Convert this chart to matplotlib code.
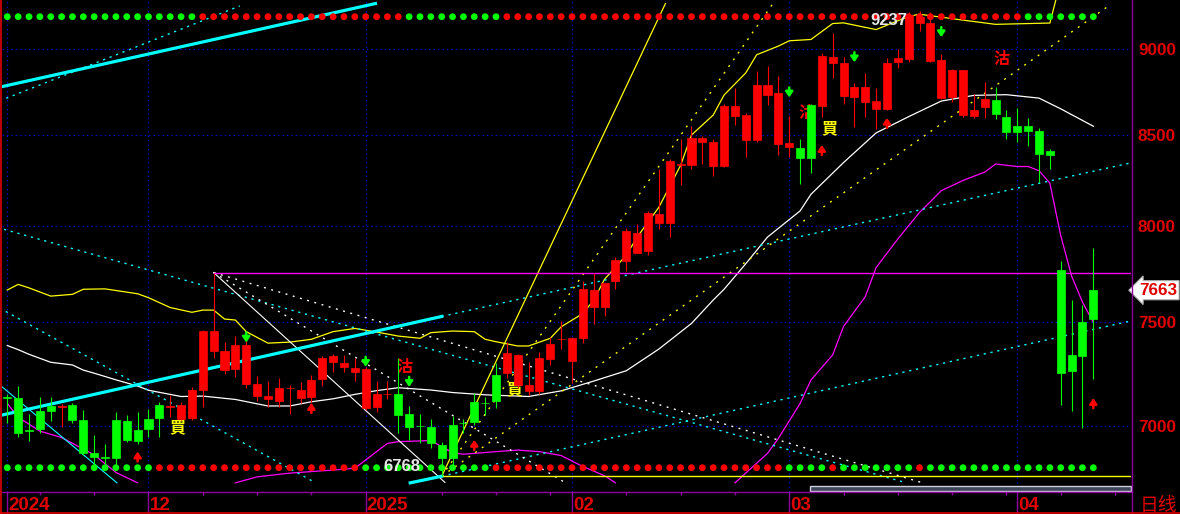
import numpy as np
import matplotlib.pyplot as plt
from matplotlib.lines import Line2D
from matplotlib.patches import Rectangle
from matplotlib.ticker import FixedLocator, NullLocator

plt.rcParams['font.family'] = ['Liberation Sans', 'Noto Sans CJK TC', 'DejaVu Sans']
plt.rcParams['lines.scale_dashes'] = False

# ---------------- data (daily bars, mid Nov 2024 -> Apr 2025) ----------------
opens = [7134, 7129, 6980, 7069, 7094, 7090, 7097, 7027, 6874, 6856,
         7027, 7024, 6980, 7032, 7097, 7090, 7032, 7037, 7169, 7360,
         7265, 7268, 7198, 7140, 7124, 7116, 7177, 7132, 7134, 7222,
         7304, 7281, 7255, 7085, 7089, 7148, 7150, 7055, 7000, 6995,
         6910, 7003, 7013, 7110, 7109, 7241, 7249, 7193, 7166, 7164,
         7319, 7417, 7310, 7421, 7580, 7580, 7711, 7815, 7857, 7867,
         8016, 8016, 8334, 8331, 8461, 8327, 8327, 8610, 8471, 8471,
         8730, 8449, 8432, 8424, 8672, 8666, 8916, 8726, 8721, 8691,
         8647, 8649, 8926, 8942, 9161, 8930, 8714, 8716, 8614, 8610,
         8662, 8701, 8601, 8550, 8550, 8522, 8409, 7767, 7339, 7503,
         7664]
highs = [7150, 7188, 7054, 7134, 7134, 7102, 7105, 7074, 6957, 6915,
         7065, 7050, 7063, 7078, 7113, 7145, 7113, 7185, 7462, 7754,
         7404, 7432, 7437, 7236, 7212, 7227, 7193, 7209, 7241, 7335,
         7345, 7338, 7322, 7281, 7212, 7212, 7322, 7093, 7055, 7033,
         6926, 7045, 7033, 7156, 7137, 7298, 7404, 7342, 7302, 7352,
         7426, 7507, 7428, 7710, 7754, 7700, 7833, 7988, 8010, 8079,
         8307, 8365, 8476, 8550, 8494, 8475, 8676, 8769, 8624, 8871,
         8902, 8842, 8608, 8475, 8678, 8976, 9100, 8952, 8798, 8858,
         8769, 8946, 9000, 9226, 9237, 9228, 8972, 8883, 8877, 8734,
         8805, 8775, 8643, 8653, 8595, 8538, 8420, 7814, 7613, 7588,
         7880]
lows = [7013, 6948, 6931, 6967, 7024, 6995, 7014, 6864, 6819, 6796,
        6805, 6926, 6915, 6946, 6946, 7039, 7027, 7027, 7089, 7322,
        7246, 7233, 7179, 7116, 7088, 7086, 7055, 7108, 7108, 7189,
        7257, 7257, 7214, 7074, 7066, 7124, 6965, 6934, 6921, 6895,
        6768, 6811, 6965, 7003, 7050, 7082, 7225, 7179, 7145, 7150,
        7289, 7368, 7204, 7397, 7490, 7534, 7668, 7763, 7854, 7845,
        7981, 7942, 8221, 8309, 8336, 8271, 8322, 8556, 8378, 8461,
        8672, 8387, 8378, 8226, 8288, 8604, 8828, 8678, 8547, 8604,
        8534, 8643, 8890, 8926, 9113, 8922, 8707, 8691, 8601, 8598,
        8598, 8591, 8477, 8461, 8437, 8239, 8309, 7097, 7071, 6991,
        7221]
closes = [7130, 6967, 6975, 6983, 7070, 7093, 7027, 6872, 6856, 6852,
          6852, 6934, 6931, 6985, 7037, 7093, 7097, 7169, 7459, 7459,
          7360, 7388, 7388, 7198, 7140, 7180, 7180, 7169, 7217, 7325,
          7334, 7301, 7276, 7270, 7150, 7151, 7050, 6995, 6998, 6921,
          6849, 6849, 7011, 7016, 7107, 7118, 7347, 7339, 7193, 7322,
          7393, 7419, 7421, 7668, 7664, 7698, 7819, 7972, 7959, 8067,
          8063, 8353, 8337, 8484, 8484, 8460, 8666, 8666, 8614, 8789,
          8789, 8740, 8452, 8372, 8372, 8960, 8952, 8916, 8775, 8775,
          8695, 8916, 8946, 9208, 9197, 9161, 8936, 8877, 8877, 8643,
          8705, 8620, 8518, 8518, 8522, 8393, 8387, 7252, 7260, 7334,
          7517]
# trend state of each bar (candle colour), as runs
candle_runs = [('g', 5), ('r', 1), ('g', 9), ('r', 21), ('g', 10),
               ('r', 27), ('g', 2), ('r', 16), ('g', 10)]
top_dot_runs = [('g', 18), ('r', 19), ('g', 9), ('r', 48), ('g', 7)]
bottom_dot_runs = [('g', 14), ('r', 19), ('g', 12), ('r', 27), ('g', 4),
                   ('r', 1), ('g', 7), ('r', 1), ('g', 16)]

# bollinger-type bands (bar index, price)
mid_idx = [0, 1, 2, 4, 6, 7, 8, 10, 12, 13, 15, 16, 18, 21, 24, 26, 28, 30, 32,
           34, 36, 39, 41, 44, 48, 51, 54, 57, 60, 63, 65, 66, 68, 70, 73, 74,
           77, 80, 83, 86, 89, 92, 95, 97, 100]
mid_val = [7385, 7365, 7342, 7303, 7290, 7265, 7250, 7218, 7188, 7168, 7148,
           7138, 7140, 7124, 7093, 7093, 7113, 7127, 7148, 7166, 7180, 7169,
           7157, 7146, 7138, 7165, 7212, 7262, 7368, 7495, 7613, 7668, 7800,
           7940, 8080, 8170, 8345, 8512, 8605, 8695, 8728, 8732, 8712, 8650,
           8550]
up_idx = [0, 1, 2, 4, 6, 7, 9, 12, 13, 15, 17, 18, 19, 20, 21, 22, 24, 26, 28,
          30, 32, 34, 36, 38, 39, 41, 43, 44, 45, 47, 48, 50, 51, 53, 54, 55,
          57, 58, 60, 62, 63, 65, 66, 68, 69, 71, 72, 74, 76, 77, 80, 83, 84,
          88, 91, 96, 97]
up_val = [7664, 7693, 7675, 7633, 7642, 7668, 7670, 7645, 7625, 7575, 7551,
          7562, 7562, 7517, 7512, 7454, 7397, 7402, 7416, 7454, 7470, 7452,
          7432, 7421, 7449, 7457, 7454, 7416, 7404, 7383, 7383, 7421, 7478,
          7545, 7613, 7720, 7845, 7940, 8100, 8330, 8500, 8614, 8730, 8860,
          8968, 9020, 9052, 9060, 9157, 9161, 9120, 9201, 9214, 9178, 9152,
          9160, 9420]
low_idx = [0, 1, 3, 5, 8, 10, 12, 13, 20, 21, 23, 26, 30, 32, 33, 35, 36, 39,
           41, 42, 45, 47, 49, 51, 53, 55, 56, 57, 66, 67, 70, 71, 73, 74, 76,
           77, 79, 80, 82, 84, 85, 86, 88, 90, 91, 93, 94, 95, 96, 97, 98, 99,
           100]
low_val = [7105, 7040, 6975, 6945, 6865, 6785, 6738, np.nan, np.nan, 6738,
           6765, 6782, 6796, 6804, 6842, 6918, 6926, 6931, 6875, 6868, 6880,
           6887, 6880, 6862, 6812, 6770, 6738, np.nan, np.nan, 6738, 6872,
           6941, 7105, 7217, 7339, 7480, 7630, 7780, 7930, 8072, 8130, 8190,
           8246, 8292, 8337, 8323, 8323, 8300, 8231, 7948, 7736, 7603, 7500]

# drawn studies: (start bar, start price, end bar, end price)
cyan_channel = [(-0.5, 8779, 33.9, 9280), (-0.5, 7050, 40.0, 7530),
                (37.1, 6738, 40.0, 6768)]
cyan_channel_ext = [(40.0, 7530, 103.5, 8344), (40.0, 6768, 103.5, 7508)]
cyan_dotted = [(-0.1, 8711, 21.4, 9265), (-0.3, 7981, 82.8, 6738),
               (-0.7, 7572, 28.2, 6743)]
cyan_thin = [(-0.5, 7185, 10.1, 6738)]
white_solid = [(19, 7754, 40.3, 6740)]
white_dotted = [(19, 7754, 84.3, 6738), (19, 7754, 51.4, 6738)]
yellow_solid = [(40, 6768, 60.6, 9280)]
yellow_dotted = [(40, 6768, 70.5, 9280), (40, 6768, 101.4, 9265)]
resist_bar, resist_level = 19, 7754
support_bar, support_level = 40, 6768

# signals
up_arrow_idx = [12, 28, 43, 75, 81, 100]
up_arrow_price = [6880, 7107, 6934, 8443, 8598, 7130]
down_arrow_idx = [22, 33, 37, 72, 78, 86]
down_arrow_price = [7400, 7281, 7184, 8716, 8923, 9074]
buy_idx = [15, 46, 75]
buy_price = [6992, 7173, 8539]
sell_idx = [36, 73, 91]
sell_price = [7281, 8627, 8942]

high_mark = (84, 9237)
low_mark = (40, 6768)
last_price = 7663

price_ticks = [7000, 7500, 8000, 8500, 9000]
month_idx = [0, 13, 33, 52, 72, 93]
month_labels = ['2024', '12', '2025', '02', '03', '04']
week_idx = [3, 8, 18, 23, 28, 40, 45, 50, 57, 62, 67, 77, 82, 87, 92, 97, 102]


def expand(runs):
    out = []
    for c, n in runs:
        out += [c] * n
    return out


RED = '#ff0000'
GREEN = '#00ff00'
cmap = {'r': RED, 'g': GREEN}
W, H = 1180, 514

fig = plt.figure(figsize=(W / 100, H / 100), dpi=100, facecolor='black')
ax = fig.add_axes([2 / W, (H - 492) / H, 1129 / W, 492 / H])
ax.set_facecolor('black')
ax.set_yscale('log')
ax.set_ylim(6697, 9302)
ax.set_xlim(-0.488, 103.47)
for s in ax.spines.values():
    s.set_visible(False)

# grid
ax.hlines(price_ticks, -0.488, 103.47, colors='#0000d0', lw=0.9,
          linestyles=(0, (1, 2.2)), zorder=0)
ax.vlines(month_idx, 6697, 9302, colors='#0000d0', lw=0.9,
          linestyles=(0, (1, 2.2)), zorder=0)

# bands
ax.plot(mid_idx, mid_val, color='white', lw=0.9, zorder=2)
ax.plot(up_idx, up_val, color='#ffff00', lw=0.9, zorder=2)
ax.plot(low_idx, low_val, color='#ff00ff', lw=0.9, zorder=2)


def draw(segs, **kw):
    for x0, y0, x1, y1 in segs:
        ax.plot([x0, x1], [y0, y1], **kw)


draw(cyan_channel, color='#00ffff', lw=2.3, zorder=3)
draw(cyan_channel_ext, color='#00ffff', lw=1, ls=(0, (1.6, 3.4)), zorder=2)
draw(cyan_dotted, color='#00ffff', lw=1, ls=(0, (1.6, 3.4)), zorder=2)
draw(cyan_thin, color='#00ffff', lw=0.8, zorder=2)
draw(white_solid, color='white', lw=0.8, zorder=2)
draw(white_dotted, color='white', lw=1, ls=(0, (1.4, 4)), zorder=2)
draw(yellow_solid, color='#ffff00', lw=0.9, zorder=2)
draw(yellow_dotted, color='#ffff00', lw=1, ls=(0, (1.4, 4.5)), zorder=2)
ax.plot([resist_bar, 103.47], [resist_level] * 2, color='#ff00ff', lw=1, zorder=2)
ax.plot([support_bar, 103.47], [support_level] * 2, color='#ffff00', lw=1, zorder=2)

# state dots
n = len(opens)
idx = np.arange(n)
ax.scatter(idx, [1 - 16.7 / 492] * n, s=24, c=[cmap[c] for c in expand(top_dot_runs)],
           transform=ax.get_xaxis_transform(), zorder=4, linewidths=0)
ax.scatter(idx, [1 - 467.7 / 492] * n, s=24, c=[cmap[c] for c in expand(bottom_dot_runs)],
           transform=ax.get_xaxis_transform(), zorder=4, linewidths=0)

# buy / sell labels (under candles)
for i, p in zip(buy_idx, buy_price):
    ax.text(i - 0.05, p, '買', color='#ffff00', fontsize=11.5, fontweight='bold',
            family=['Noto Sans CJK TC'], ha='left', va='center', zorder=3)
for i, p in zip(sell_idx, sell_price):
    ax.text(i - 0.15, p, '沽', color=RED, fontsize=11.5, fontweight='bold',
            family=['Noto Sans CJK TC'], ha='left', va='center', zorder=3)

# candles
cols = [cmap[c] for c in expand(candle_runs)]
o = np.array(opens, float)
c = np.array(closes, float)
ax.vlines(idx, lows, highs, colors=cols, lw=0.8, zorder=5)
ax.bar(idx, np.abs(c - o), bottom=np.minimum(o, c), width=0.74, color=cols,
       edgecolor=cols, linewidth=0.5, zorder=6)

# arrows
arrow_style = '-|>,head_width=0.22,head_length=0.32'
for i, p in zip(up_arrow_idx, up_arrow_price):
    ax.annotate('', xy=(i, p), xytext=(0, -10), textcoords='offset pixels',
                arrowprops=dict(arrowstyle=arrow_style, color=RED, lw=1.8,
                                shrinkA=0, shrinkB=0), zorder=7)
for i, p in zip(down_arrow_idx, down_arrow_price):
    ax.annotate('', xy=(i, p), xytext=(0, 10), textcoords='offset pixels',
                arrowprops=dict(arrowstyle=arrow_style, color=GREEN, lw=1.8,
                                shrinkA=0, shrinkB=0), zorder=7)

# high / low marks
ax.annotate(str(high_mark[1]), xy=high_mark, xytext=(-12, -10), textcoords='offset pixels',
            ha='right', va='center', color='#e6e6e6', fontsize=12, fontweight='bold', zorder=7)
ax.annotate(str(low_mark[1]), xy=low_mark, xytext=(-21, 10), textcoords='offset pixels',
            ha='right', va='center', color='#e6e6e6', fontsize=12, fontweight='bold', zorder=7)

# right price axis
ax.yaxis.tick_right()
ax.yaxis.set_major_locator(FixedLocator(price_ticks))
ax.yaxis.set_minor_locator(NullLocator())
ax.set_yticks(price_ticks, labels=[str(p) for p in price_ticks])
ax.tick_params(axis='y', length=0, pad=5, labelcolor='#e00000', labelsize=12.3)
for lbl in ax.get_yticklabels():
    lbl.set_fontweight('bold')

# date axis
ax.set_xticks(month_idx, labels=[''] * len(month_idx))
ax.set_xticks(week_idx, minor=True)
ax.tick_params(axis='x', which='major', length=16, width=1, color='#9000a0')
ax.tick_params(axis='x', which='minor', length=2, width=1, color='#9000a0')
for i, lab in zip(month_idx, month_labels):
    ax.text(i + 0.1, -13 / 492, lab, transform=ax.get_xaxis_transform(), ha='left',
            va='center', color='#e00000', fontsize=13.5, fontweight='bold')

# last price tag
ax.annotate(str(last_price), xy=(1, last_price), xycoords=('axes fraction', 'data'),
            xytext=(27, 0), textcoords='offset pixels', ha='center', va='center',
            color='#e00000', fontsize=12.3, fontweight='bold', annotation_clip=False,
            bbox=dict(boxstyle='larrow,pad=0.12', fc='white', ec='#b0b0b0', lw=0.8))

# frame lines
fig.add_artist(Line2D([2 / W, 1131.5 / W], [(H - 492) / H] * 2, color='#9000a0', lw=1))
fig.add_artist(Line2D([1131.5 / W] * 2, [0, 1], color='#9000a0', lw=1))
fig.add_artist(Line2D([0.7 / W] * 2, [0, 1], color='#e00000', lw=1.2))
fig.add_artist(Line2D([0, 1], [1.2 / H] * 2, color='#e00000', lw=1.2))
fig.add_artist(Rectangle((810 / W, (H - 490.7) / H), 321 / W, 4.5 / H,
                         transform=fig.transFigure, fc='#3c4658', ec='#d0d0e0', lw=1))
fig.text(1140 / W, 1 - 505 / H, '日线', color='#e00000', fontsize=13.5,
         family=['Noto Sans CJK SC'], ha='left', va='center')

fig.savefig('out.png', dpi=100, facecolor='black')
